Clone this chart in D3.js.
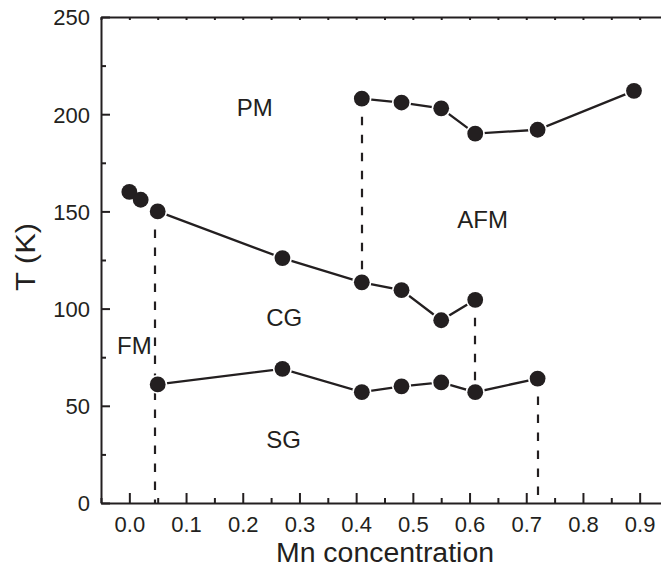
<!DOCTYPE html>
<html>
<head>
<meta charset="utf-8">
<script src="https://cdn.jsdelivr.net/npm/d3@7"></script>
<style>
  html, body { margin: 0; padding: 0; background: #fff; }
  svg { display: block; }
  text { font-family: "Liberation Sans", Arial, Helvetica, sans-serif; fill: #231f20; }
</style>
</head>
<body>
<script>
// ---- data ----
const cgX = [0.00, 0.02, 0.05, 0.27, 0.41, 0.48, 0.55, 0.61];
const cgT = [160, 156, 150, 126, 113.5, 109.5, 94, 104.5];
const pmX = [0.41, 0.48, 0.55, 0.61, 0.72, 0.89];
const pmT = [208, 206, 203, 190, 192, 212];
const sgX = [0.05, 0.27, 0.41, 0.48, 0.55, 0.61, 0.72];
const sgT = [61, 69, 57, 60, 62, 57, 64];
// vertical dashed phase boundaries
const dashX = [0.046, 0.41, 0.61, 0.72];
const dashTop = [150, 208, 104.5, 64];
const dashBottom = [0, 113.5, 57, 0];
// region labels
const regionText = ["PM", "AFM", "CG", "FM", "SG"];
const regionX = [0.221, 0.623, 0.273, 0.009, 0.272];
const regionT = [199.2, 141.5, 91.2, 76.6, 28.3];
// axes
const xMajorTicks = [0.0, 0.1, 0.2, 0.3, 0.4, 0.5, 0.6, 0.7, 0.8, 0.9];
const xMinorTicks = [-0.05, 0.05, 0.15, 0.25, 0.35, 0.45, 0.55, 0.65, 0.75, 0.85, 0.95];
const yMajorTicks = [0, 50, 100, 150, 200, 250];
const yMinorTicks = [25, 75, 125, 175, 225];
const xTitle = "Mn concentration";
const yTitle = "T (K)";

// ---- drawing ----
const W = 661, H = 570;
const ink = "#231f20";
const svg = d3.select("body").append("svg").attr("width", W).attr("height", H);

const x = d3.scaleLinear().domain([-0.05, 0.95]).range([101, 668]);
const y = d3.scaleLinear().domain([0, 250]).range([503, 17]);

const zip = (xs, ys) => xs.map((v, i) => [v, ys[i]]);
const cg = zip(cgX, cgT), pm = zip(pmX, pmT), sg = zip(sgX, sgT);

// dashed boundaries
svg.append("g").selectAll("line").data(dashX).join("line")
  .attr("x1", d => Math.round(x(d))).attr("x2", d => Math.round(x(d)))
  .attr("y1", (d, i) => y(dashTop[i])).attr("y2", (d, i) => y(dashBottom[i]))
  .attr("stroke", ink).attr("stroke-width", 2.2).attr("stroke-dasharray", "8.5,9.5");

// solid lines
const line = d3.line().x(d => x(d[0])).y(d => y(d[1]));
[cg.filter(d => d[0] >= 0.05), pm, sg].forEach(s => {
  svg.append("path").datum(s).attr("d", line)
    .attr("fill", "none").attr("stroke", ink).attr("stroke-width", 2.3);
});

// markers: white halos then black dots
const allPts = cg.concat(pm, sg);
svg.append("g").selectAll("circle").data(allPts).join("circle")
  .attr("cx", d => x(d[0])).attr("cy", d => y(d[1])).attr("r", 9.6).attr("fill", "#fff");
svg.append("g").selectAll("circle").data(allPts).join("circle")
  .attr("cx", d => x(d[0])).attr("cy", d => y(d[1])).attr("r", 7.9).attr("fill", ink);

// axes
function styleAxis(g) {
  g.selectAll("path.domain").attr("stroke", ink).attr("stroke-width", 2);
  g.selectAll(".tick line").attr("stroke", ink).attr("stroke-width", 2);
  g.selectAll("text").style("font-size", "22px").attr("fill", ink)
    .style("font-family", '"Liberation Sans", Arial, sans-serif');
}
// bottom
const gx = svg.append("g").attr("transform", `translate(0,${y(0)})`)
  .call(d3.axisBottom(x).tickValues(xMajorTicks).tickFormat(d3.format(".1f"))
    .tickSizeInner(-10).tickSizeOuter(0).tickPadding(0));
styleAxis(gx);
gx.selectAll(".tick text").attr("y", 28.7).attr("dy", null);
svg.append("g").attr("transform", `translate(0,${y(0)})`)
  .call(d3.axisBottom(x).tickValues(xMinorTicks).tickFormat("").tickSizeInner(-5).tickSizeOuter(0))
  .call(g => { g.select("path.domain").remove(); styleAxis(g); });
// top
const gt = svg.append("g").attr("transform", `translate(0,${y(250)})`)
  .call(d3.axisTop(x).tickValues(xMajorTicks.concat(xMinorTicks)).tickFormat("").tickSizeInner(-3).tickSizeOuter(0));
styleAxis(gt);
// left
const gy = svg.append("g").attr("transform", `translate(${x(-0.05)},0)`)
  .call(d3.axisLeft(y).tickValues(yMajorTicks).tickFormat(d3.format("d"))
    .tickSizeInner(-9).tickSizeOuter(0).tickPadding(11));
styleAxis(gy);
gy.selectAll(".tick text").attr("dy", "0.36em");
svg.append("g").attr("transform", `translate(${x(-0.05)},0)`)
  .call(d3.axisLeft(y).tickValues(yMinorTicks).tickFormat("").tickSizeInner(-5).tickSizeOuter(0))
  .call(g => { g.select("path.domain").remove(); styleAxis(g); });

// region labels
svg.append("g").selectAll("text").data(regionText).join("text")
  .attr("x", (d, i) => x(regionX[i])).attr("y", (d, i) => y(regionT[i]))
  .attr("text-anchor", "middle").style("font-size", "24px").text(d => d);

// titles
svg.append("text").attr("x", 385).attr("y", 561.5).attr("text-anchor", "middle")
  .attr("textLength", 218).attr("lengthAdjust", "spacingAndGlyphs")
  .style("font-size", "27px").text(xTitle);
svg.append("text").attr("transform", "translate(35,257) rotate(-90)")
  .attr("text-anchor", "middle").attr("textLength", 68).attr("lengthAdjust", "spacingAndGlyphs")
  .style("font-size", "27px").text(yTitle);
</script>
</body>
</html>
